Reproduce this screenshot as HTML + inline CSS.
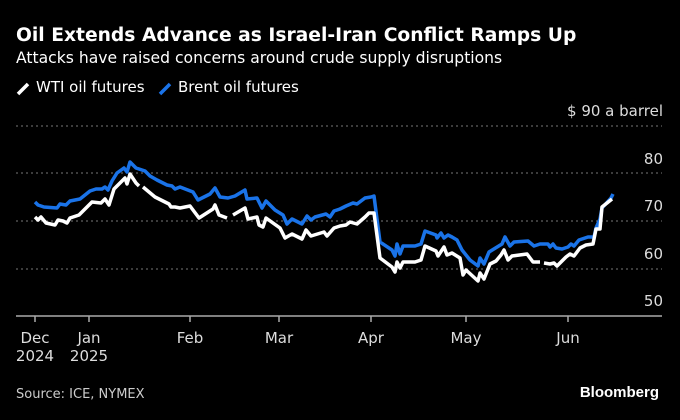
<!DOCTYPE html>
<html><head><style>
body{margin:0;background:#000;width:680px;height:416px;overflow:hidden;font-family:"DejaVu Sans",sans-serif;color:#fff}
</style></head><body>
<svg width="680" height="416" xmlns="http://www.w3.org/2000/svg" font-family="DejaVu Sans, sans-serif">
<rect width="680" height="416" fill="#000"/>
<text x="16" y="41" font-size="18.7" font-weight="bold" fill="#fff">Oil Extends Advance as Israel-Iran Conflict Ramps Up</text>
<text x="16" y="63" font-size="15.6" fill="#fff">Attacks have raised concerns around crude supply disruptions</text>
<line x1="18" y1="94" x2="28" y2="84" stroke="#fff" stroke-width="3.5"/>
<text x="36" y="92" font-size="15" fill="#fff">WTI oil futures</text>
<line x1="160" y1="94" x2="170" y2="84" stroke="#1a73e8" stroke-width="3.5"/>
<text x="178" y="92" font-size="15" fill="#fff">Brent oil futures</text>
<text x="663" y="116" font-size="15" fill="#ddd" text-anchor="end">$ 90 a barrel</text>
<g stroke="#777" stroke-width="1" stroke-dasharray="2,3">
<line x1="16" y1="126" x2="662" y2="126"/><line x1="16" y1="173" x2="662" y2="173"/>
<line x1="16" y1="221" x2="662" y2="221"/><line x1="16" y1="269" x2="662" y2="269"/>
</g>
<g font-size="15" fill="#ddd" text-anchor="end">
<text x="663" y="164">80</text><text x="663" y="211">70</text><text x="663" y="259">60</text><text x="663" y="306">50</text>
</g>
<line x1="16" y1="316" x2="662" y2="316" stroke="#aaa" stroke-width="1.5"/>
<g stroke="#aaa" stroke-width="1.5">
<line x1="35" y1="316" x2="35" y2="322"/><line x1="89" y1="316" x2="89" y2="322"/><line x1="190" y1="316" x2="190" y2="322"/><line x1="279" y1="316" x2="279" y2="322"/><line x1="371" y1="316" x2="371" y2="322"/><line x1="466" y1="316" x2="466" y2="322"/><line x1="568" y1="316" x2="568" y2="322"/>
</g>
<g font-size="15" fill="#ddd" text-anchor="middle">
<text x="35" y="343">Dec</text><text x="35" y="361">2024</text>
<text x="89" y="343">Jan</text><text x="89" y="361">2025</text>
<text x="190" y="343">Feb</text><text x="279" y="343">Mar</text><text x="371" y="343">Apr</text><text x="466" y="343">May</text><text x="568" y="343">Jun</text>
</g>
<polyline fill="none" stroke="#1a73e8" stroke-width="3.5" stroke-linejoin="round" points="35,202 38,205 44,207 57,208 60,204 66,205 70,201 80,199 90,191 96,189 102,189 105,187 108,190 112,181 117,173 124,168 127,172 130,162 136,168 145,171 150,176 157,180 167,185 172,186 175,189 180,187 193,192 198,200 210,194 215,188 220,197 228,198 235,196 245,190 247,199 257,198 262,208 266,201 275,210 283,215 287,224 292,219 302,224 307,216 311,220 315,217 326,214 330,217 334,211 340,209 346,206 353,203 357,204 365,198 371,197 374,196 380,242 392,250 395,256 397,244 400,254 403,246 415,246 418,245 421,244 425,231 436,235 437,238 441,233 444,238 448,235 452,237 457,240 462,250 470,260 478,266 480,258 484,264 489,252 502,244 505,237 510,246 514,242 528,241 534,246 540,244 548,244 550,247 553,244 556,248 562,249 568,247 571,244 574,246 579,240 588,237 594,237 596,228 600,219 602,208 611,198 613,194"/>
<g fill="none" stroke="#fff" stroke-width="3.5" stroke-linejoin="round">
<polyline points="35,217 38,220 41,217 46,223 55,225 58,220 63,221 67,223 70,218 79,215 92,202 101,203 105,199 109,205 114,189 125,178 127,184 130,174 136,183 139,186"/>
<polyline points="143,187 155,197 169,204 171,207 175,207 180,208 190,206 199,218 213,209 215,205 219,215 227,218"/>
<polyline points="233,215 245,208 248,219 257,217 259,225 263,227 266,218 280,228 285,238 292,234 302,239 306,230 311,236 324,232 327,236 334,228 340,226 346,225 350,222 357,224 365,217 369,213 374,213 380,258 392,267 395,272 397,262 400,268 403,262 415,262 421,260 425,246 436,251 438,256 444,247 447,255 452,253 460,258 463,275 466,270 478,281 480,273 484,279 490,264 496,261 501,255 504,250 508,260 512,256 527,254 533,262 540,262"/>
<polyline points="544,263 550,264 554,263 557,266 566,257 570,254 574,256 580,248 586,245 593,244 596,229 600,229 602,207 612,199"/>
</g>
<text x="16" y="398" font-size="13" fill="#ccc">Source: ICE, NYMEX</text>
<text x="659" y="397" font-size="15" font-weight="bold" fill="#fff" text-anchor="end" font-family="Liberation Sans, sans-serif">Bloomberg</text>
</svg>
</body></html>
